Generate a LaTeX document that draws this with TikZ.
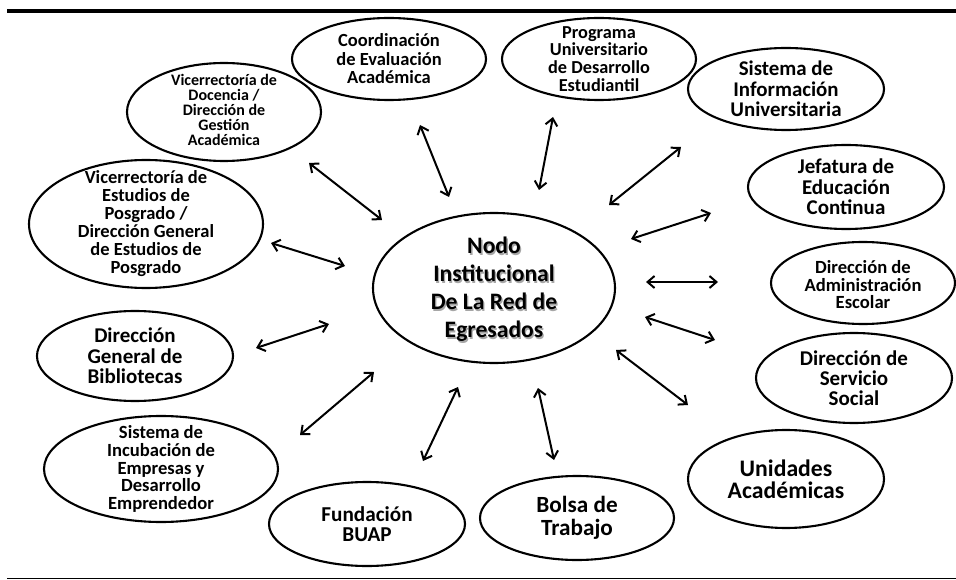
\documentclass[tikz,border=0pt]{standalone}
\usepackage{fontspec}
\setmainfont{Carlito}
\usetikzlibrary{shapes.geometric,arrows.meta}
\begin{document}
\begin{tikzpicture}[x=1pt,y=-1pt,
  oval/.style={ellipse,draw,line width=2.1pt,inner sep=0pt},
  lbl/.style={align=center,inner sep=0pt,font=\bfseries\fontsize{#1}{#1}\selectfont},
  link/.style={line width=2pt,{Straight Barb[length=7pt,width=12pt]}-{Straight Barb[length=7pt,width=12pt]}},
  rule/.style={line cap=butt}]
\useasboundingbox (0,0) rectangle (956,580);
\coordinate (rl1) at (7,11); \coordinate (rr1) at (956,11);
\coordinate (rl2) at (7,578); \coordinate (rr2) at (956,578);
\draw[rule,line width=4pt] (rl1) -- (rr1);
\draw[rule,line width=1pt] (rl2) -- (rr2);

% ellipses
\node[oval,minimum width=194pt,minimum height=82pt] (coord) at (389,59) {};
\node[oval,minimum width=194pt,minimum height=98pt] (vicdoc) at (224,112) {};
\node[oval,minimum width=234pt,minimum height=128pt] (posg) at (146,224) {};
\node[oval,minimum width=194pt,minimum height=82pt] (prog) at (599,59) {};
\node[oval,minimum width=196pt,minimum height=82pt] (siu) at (786,89) {};
\node[oval,minimum width=196pt,minimum height=84pt] (jef) at (846,187) {};
\node[oval,minimum width=184pt,minimum height=82pt] (adm) at (863,283) {};
\node[oval,minimum width=196pt,minimum height=90pt] (serv) at (854,378) {};
\node[oval,minimum width=196pt,minimum height=98pt] (unid) at (786,479) {};
\node[oval,minimum width=194pt,minimum height=84pt] (bolsa) at (577,518) {};
\node[oval,minimum width=196pt,minimum height=84pt] (fund) at (367,524) {};
\node[oval,minimum width=234pt,minimum height=106pt] (incub) at (161,469) {};
\node[oval,minimum width=196pt,minimum height=90pt] (bib) at (135,356) {};
\node[oval,minimum width=242pt,minimum height=150pt] (nodo) at (494,288) {};

% texts
\node[lbl={18.5}] (coordt) at (coord) {Coordinación\\de Evaluación\\Académica};
\node[lbl={15.2},font=\bfseries\fontsize{16}{15.2}\selectfont] (vicdoct) at (224,110) {Vicerrectoría de\\Docencia /\\Dirección de\\Gestión\\Académica};
\node[lbl={18},font=\bfseries\fontsize{18.5}{18}\selectfont] (posgt) at (posg) {Vicerrectoría de\\Estudios de\\Posgrado /\\Dirección General\\de Estudios de\\Posgrado};
\node[lbl={18},font=\bfseries\fontsize{18.3}{17.9}\selectfont] (progt) at (prog) {Programa\\Universitario\\de Desarrollo\\Estudiantil};
\node[lbl={20.5},font=\bfseries\fontsize{20.9}{20.5}\selectfont] (siut) at (siu) {Sistema de\\Información\\Universitaria};
\node[lbl={20.3},font=\bfseries\fontsize{21}{20.3}\selectfont] (jeft) at (jef) {Jefatura de\\Educación\\Continua};
\node[lbl={17.5},font=\bfseries\fontsize{18.6}{17.5}\selectfont] (admt) at (863,285) {Dirección de\\Administración\\Escolar};
\node[lbl={20},font=\bfseries\fontsize{21}{20}\selectfont] (servt) at (serv) {Dirección de\\Servicio\\Social};
\node[lbl={22.3},font=\bfseries\fontsize{23.7}{22.3}\selectfont] (unidt) at (unid) {Unidades\\Académicas};
\node[lbl={23},font=\bfseries\fontsize{23.2}{23}\selectfont] (bolsat) at (bolsa) {Bolsa de\\Trabajo};
\node[lbl={20},font=\bfseries\fontsize{21.2}{20}\selectfont] (fundt) at (fund) {Fundación\\BUAP};
\node[lbl={17.9},font=\bfseries\fontsize{18.6}{17.9}\selectfont] (incubt) at (incub) {Sistema de\\Incubación de\\Empresas y\\Desarrollo\\Emprendedor};
\node[lbl={20.5},font=\bfseries\fontsize{21}{20.5}\selectfont] (bibt) at (bib) {Dirección\\General de\\Bibliotecas};
\node[lbl={28},font=\bfseries\fontsize{23.6}{28}\selectfont,text=black!35] (nodos) at (495.3,290.8) {Nodo\\Institucional\\De La Red de\\Egresados};
\node[lbl={28},font=\bfseries\fontsize{23.6}{28}\selectfont] (nodot) at (494,289.5) {Nodo\\Institucional\\De La Red de\\Egresados};

% arrow end points
\coordinate (a1s) at (420,125); \coordinate (a1e) at (449,197);
\coordinate (a2s) at (309,163); \coordinate (a2e) at (382,220);
\coordinate (a3s) at (271,243); \coordinate (a3e) at (345,266);
\coordinate (a4s) at (553,117); \coordinate (a4e) at (539,190);
\coordinate (a5s) at (681,147); \coordinate (a5e) at (609,205);
\coordinate (a6s) at (711,213); \coordinate (a6e) at (631,239);
\coordinate (a7s) at (646,282); \coordinate (a7e) at (718,282);
\coordinate (a8s) at (645,317); \coordinate (a8e) at (715,340);
\coordinate (a9s) at (616,350); \coordinate (a9e) at (688,405);
\coordinate (a10s) at (538,388); \coordinate (a10e) at (554,460);
\coordinate (a11s) at (458,387); \coordinate (a11e) at (423,461);
\coordinate (a12s) at (374,372); \coordinate (a12e) at (300,435);
\coordinate (a13s) at (329,324); \coordinate (a13e) at (256,348);
\foreach \i in {1,...,13} {\draw[link] (a\i s) -- (a\i e);}
\end{tikzpicture}
\end{document}
